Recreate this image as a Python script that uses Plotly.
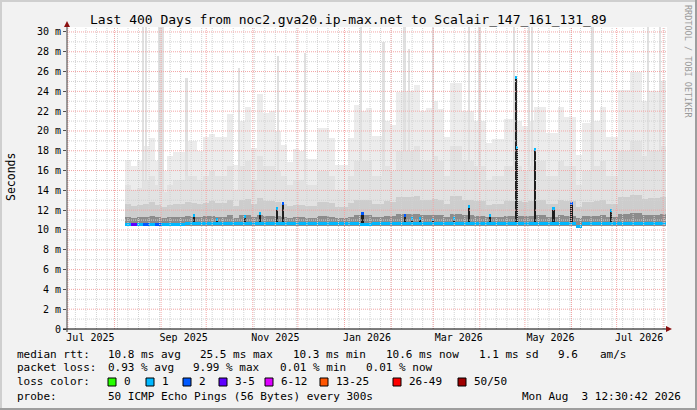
import pandas as pd
import plotly.graph_objects as go

# 400 day window shown on the time axis
range_start = "2025-06-30 10:00"
range_end = "2026-08-03 12:30"

# smoke is read in 4 day buckets, first bucket centred on Aug 10 2025
bin_dates = pd.date_range("2025-08-10", periods=90, freq="4D")

# top of the smoke (slowest ping) per bucket, ms
smoke_max = [17.1, 16.5, 17.0, 18.5, 19.3, 17.0, 16.0, 17.5, 17.9, 17.9,
             19.0, 19.0, 18.0, 19.4, 19.7, 19.4, 19.4, 21.7, 16.6, 21.0,
             22.4, 18.3, 23.7, 21.8, 22.0, 20.0, 18.6, 16.9, 18.2, 18.0,
             17.2, 17.2, 20.3, 20.3, 19.3, 16.6, 16.6, 19.3, 22.6, 22.0,
             22.3, 19.5, 19.5, 21.0, 20.6, 23.9, 24.0, 24.0, 24.6, 22.0,
             22.3, 23.0, 22.2, 19.4, 24.8, 24.8, 22.0, 22.0, 21.0, 21.0,
             18.8, 19.2, 19.2, 21.2, 21.2, 21.0, 20.5, 21.0, 22.4, 22.4,
             19.8, 19.8, 22.4, 21.4, 21.4, 17.6, 20.8, 20.8, 21.0, 22.4,
             19.4, 19.4, 24.1, 24.1, 26.0, 26.0, 23.0, 24.0, 24.0, 25.0]

# middle of the smoke
smoke_mid = [14.5, 14.0, 14.2, 15.0, 15.5, 14.5, 13.8, 14.5, 15.0, 15.0,
             15.5, 15.5, 15.0, 15.5, 16.0, 15.5, 15.5, 16.5, 14.0, 16.5,
             17.0, 15.0, 17.5, 16.5, 16.5, 16.0, 15.5, 14.5, 15.0, 15.0,
             14.5, 14.5, 16.0, 16.0, 15.5, 14.0, 14.0, 15.5, 17.0, 17.0,
             17.0, 15.5, 15.5, 16.5, 16.0, 18.0, 18.0, 18.0, 18.5, 17.0,
             17.0, 17.5, 17.0, 15.5, 18.5, 18.5, 17.0, 17.0, 16.5, 16.5,
             15.0, 15.5, 15.5, 16.5, 16.5, 16.5, 16.0, 16.5, 17.0, 17.0,
             15.5, 15.5, 17.0, 16.5, 16.5, 14.5, 16.0, 16.0, 16.5, 17.0,
             15.5, 15.5, 18.0, 18.0, 19.0, 19.0, 17.5, 18.0, 18.0, 18.5]

# denser smoke close to the median
smoke_low = [12.6, 12.4, 12.5, 12.6, 12.8, 12.5, 12.3, 12.5, 12.6, 12.6,
             12.8, 12.7, 12.6, 12.7, 12.9, 12.7, 12.7, 13.0, 12.4, 13.0,
             13.1, 12.6, 13.2, 12.9, 12.9, 12.8, 12.6, 12.4, 12.5, 12.5,
             12.4, 12.4, 12.8, 12.8, 12.7, 12.3, 12.3, 12.7, 13.0, 13.0,
             13.0, 12.6, 12.6, 12.9, 12.8, 13.3, 13.3, 13.3, 13.4, 13.0,
             13.0, 13.1, 13.0, 12.6, 13.4, 13.4, 13.0, 13.0, 12.9, 12.9,
             12.5, 12.6, 12.6, 12.9, 12.9, 12.9, 12.8, 12.9, 13.0, 13.0,
             12.6, 12.6, 13.0, 12.9, 12.9, 12.3, 12.8, 12.8, 12.9, 13.0,
             12.6, 12.6, 13.3, 13.3, 13.5, 13.5, 13.1, 13.2, 13.2, 13.3]

smoke_dark = [11.3, 11.2, 11.3, 11.3, 11.4, 11.3, 11.2, 11.3, 11.3, 11.3,
              11.4, 11.3, 11.3, 11.4, 11.4, 11.3, 11.3, 11.5, 11.2, 11.5,
              11.5, 11.3, 11.5, 11.4, 11.4, 11.4, 11.3, 11.2, 11.3, 11.3,
              11.2, 11.2, 11.4, 11.4, 11.3, 11.2, 11.2, 11.3, 11.5, 11.5,
              11.5, 11.3, 11.3, 11.4, 11.4, 11.6, 11.6, 11.6, 11.6, 11.5,
              11.5, 11.5, 11.5, 11.3, 11.6, 11.6, 11.5, 11.5, 11.4, 11.4,
              11.3, 11.3, 11.3, 11.4, 11.4, 11.4, 11.4, 11.4, 11.5, 11.5,
              11.3, 11.3, 11.5, 11.4, 11.4, 11.2, 11.4, 11.4, 11.4, 11.5,
              11.3, 11.3, 11.6, 11.6, 11.7, 11.7, 11.5, 11.5, 11.5, 11.6]

# median rtt per bucket and its loss class (index into loss_labels)
median = [10.6, 10.6, 10.6, 10.6, 10.6, 10.6, 10.6, 10.6, 10.6, 10.6,
          10.65, 10.65, 10.65, 10.65, 10.65, 10.65, 10.65, 10.65, 10.65, 10.65,
          10.65, 10.65, 10.65, 10.65, 10.65, 10.65, 10.65, 10.65, 10.65, 10.65,
          10.65, 10.65, 10.65, 10.65, 10.65, 10.65, 10.65, 10.65, 10.65, 10.55,
          10.55, 10.65, 10.65, 10.65, 10.65, 10.65, 10.65, 10.65, 10.65, 10.65,
          10.65, 10.65, 10.65, 10.65, 10.65, 10.65, 10.65, 10.65, 10.65, 10.65,
          10.65, 10.65, 10.65, 10.65, 10.65, 10.65, 10.65, 10.65, 10.65, 10.65,
          10.65, 10.65, 10.65, 10.65, 10.65, 10.4, 10.65, 10.65, 10.65, 10.65,
          10.65, 10.65, 10.65, 10.65, 10.65, 10.65, 10.65, 10.65, 10.65, 10.65]
median_loss = [1, 3, 1, 2, 1, 2, 1, 1, 1, 1,
               1, 1, 1, 1, 1, 1, 1, 1, 1, 1,
               1, 1, 1, 1, 1, 1, 1, 1, 1, 1,
               1, 1, 1, 1, 1, 1, 1, 1, 1, 1,
               1, 1, 1, 1, 1, 1, 1, 1, 1, 1,
               1, 1, 1, 1, 1, 1, 1, 1, 1, 1,
               1, 1, 1, 1, 1, 1, 1, 1, 1, 1,
               1, 1, 1, 1, 1, 1, 1, 1, 1, 1,
               1, 1, 1, 1, 1, 1, 1, 1, 1, 1]

# single slow readings that poke out of the smoke
smoke_line_dates = ["2025-08-20", "2025-08-22", "2025-08-31", "2025-09-02", "2025-09-18",
                    "2025-10-23", "2025-11-18", "2025-12-06", "2026-01-12", "2026-01-27",
                    "2026-02-10", "2026-02-13", "2026-03-01", "2026-03-25", "2026-04-01",
                    "2026-04-24", "2026-05-04", "2026-05-06", "2026-06-15", "2026-07-22",
                    "2026-07-30"]
smoke_line_tops = [30.5, 30.5, 30.5, 30.5, 25.4,
                   26.4, 27.6, 27.9, 30.5, 29.0,
                   30.5, 28.3, 30.5, 30.5, 30.5,
                   30.5, 30.5, 30.5, 30.5, 30.5,
                   30.5]

# median jumps (dark columns)
spike_dates = ["2025-09-23", "2025-10-08", "2025-10-27", "2025-11-06", "2025-11-17",
               "2025-11-21", "2026-01-13", "2026-02-10", "2026-02-15", "2026-02-20",
               "2026-03-01", "2026-03-15", "2026-03-25", "2026-04-08", "2026-04-25",
               "2026-04-26", "2026-05-08", "2026-05-20", "2026-06-01", "2026-06-27"]
spike_values = [11.5, 11.1, 11.4, 11.7, 12.2,
                12.7, 11.7, 11.5, 11.2, 11.2,
                11.1, 11.2, 12.4, 11.5, 25.4,
                18.3, 18.1, 12.2, 12.7, 12.0]
spike_loss = [1, 1, 1, 1, 1,
              2, 2, 2, 1, 1,
              1, 1, 1, 1, 1,
              1, 1, 1, 2, 1]

loss_labels = ["0", "1", "2", "3-5", "6-12", "13-25", "26-49", "50/50"]
loss_colors = ["#26ff00", "#00b8ff", "#0059ff", "#5e00ff",
               "#dd00ff", "#ff5500", "#ff0000", "#a00000"]

y_ticks = [0, 2, 4, 6, 8, 10, 12, 14, 16, 18, 20, 22, 24, 26, 28, 30]
y_ticktext = ["0"] + ["%d m" % v for v in y_ticks[1:]]
x_tickvals = ["2025-07-16", "2025-09-16", "2025-11-16", "2026-01-16",
              "2026-03-18", "2026-05-18", "2026-07-16"]
x_ticktext = ["Jul 2025", "Sep 2025", "Nov 2025", "Jan 2026",
              "Mar 2026", "May 2026", "Jul 2026"]

MONO = "DejaVu Sans Mono"
DAY = 86400000
L, R, T, B = 67, 30, 27, 81
W, H = 697, 410
PW, PH = W - L - R, H - T - B
SMOKE_BASE = 10.45


def px(x):
    return (x - L) / PW


def py(y):
    return (H - B - y) / PH


fig = go.Figure()

def smoke_layer(tops, color):
    fig.add_trace(go.Bar(x=bin_dates, y=[t - SMOKE_BASE for t in tops], base=SMOKE_BASE,
                         width=4 * DAY, marker=dict(color=color, line=dict(width=0)),
                         hoverinfo="skip", showlegend=False))

smoke_layer(smoke_max, "#ececec")
fig.add_trace(go.Bar(x=pd.to_datetime(smoke_line_dates),
                     y=[t - SMOKE_BASE for t in smoke_line_tops], base=SMOKE_BASE,
                     width=1.3 * DAY, marker=dict(color="#e0e0e0", line=dict(width=0)),
                     hoverinfo="skip", showlegend=False))
smoke_layer(smoke_mid, "#e2e2e2")
smoke_layer(smoke_low, "#cdcdcd")
smoke_layer(smoke_dark, "#8c8c8c")

# dark columns where the median jumped
fig.add_trace(go.Bar(x=pd.to_datetime(spike_dates), y=[v - 10.6 for v in spike_values], base=10.6,
                     width=1.4 * DAY, marker=dict(color="#1e1e1e", line=dict(width=0)),
                     hoverinfo="skip", showlegend=False))

# median marks coloured by loss
fig.add_trace(go.Bar(x=bin_dates, y=[0.3] * len(median), base=[m - 0.15 for m in median],
                     width=4 * DAY,
                     marker=dict(color=[loss_colors[k] for k in median_loss], line=dict(width=0)),
                     hoverinfo="skip", showlegend=False))
fig.add_trace(go.Bar(x=pd.to_datetime(spike_dates), y=[0.3] * len(spike_values),
                     base=[v - 0.15 for v in spike_values], width=1.4 * DAY,
                     marker=dict(color=[loss_colors[k] for k in spike_loss], line=dict(width=0)),
                     hoverinfo="skip", showlegend=False))

shapes = []
# grid drawn over the smoke like rrdtool does
for d in pd.date_range("2025-07-06", "2026-08-03", freq="7D"):
    shapes.append(dict(type="line", xref="x", yref="paper", x0=d, x1=d, y0=0, y1=1,
                       line=dict(color="#d2d2d2", width=1, dash="1px,1px"), layer="above"))
for v in range(1, 31, 2):
    shapes.append(dict(type="line", xref="paper", yref="y", x0=0, x1=1, y0=v, y1=v,
                       line=dict(color="#d2d2d2", width=1, dash="1px,1px"), layer="above"))
for d in pd.date_range("2025-07-01", "2026-08-01", freq="MS"):
    shapes.append(dict(type="line", xref="x", yref="paper", x0=d, x1=d, y0=0, y1=1,
                       line=dict(color="#f2a4a4", width=1, dash="1px,1px"), layer="above"))
for v in y_ticks[1:]:
    shapes.append(dict(type="line", xref="paper", yref="y", x0=0, x1=1, y0=v, y1=v,
                       line=dict(color="#f2a4a4", width=1, dash="1px,1px"), layer="above"))

# axes with arrows
shapes.append(dict(type="line", xref="paper", yref="paper", x0=px(63), x1=px(668),
                   y0=0, y1=0, line=dict(color="#000000", width=1), layer="above"))
shapes.append(dict(type="line", xref="paper", yref="paper", x0=0, x1=0,
                   y0=py(332), y1=py(24), line=dict(color="#404040", width=1), layer="above"))
shapes.append(dict(type="path", xref="paper", yref="paper", xsizemode="pixel", ysizemode="pixel",
                   xanchor=px(666), yanchor=0, path="M 0,3 L 6,0 L 0,-3 Z",
                   fillcolor="#8b1010", line=dict(width=0), layer="above"))
shapes.append(dict(type="path", xref="paper", yref="paper", xsizemode="pixel", ysizemode="pixel",
                   xanchor=0, yanchor=py(27), path="M -3,0 L 3,0 L 0,6 Z",
                   fillcolor="#8b1010", line=dict(width=0), layer="above"))

# 3d frame round the canvas
shapes.append(dict(type="rect", xref="paper", yref="paper", x0=px(0), x1=px(2), y0=py(410), y1=py(0),
                   fillcolor="#cfcfcf", line=dict(width=0)))
shapes.append(dict(type="rect", xref="paper", yref="paper", x0=px(0), x1=px(697), y0=py(2), y1=py(0),
                   fillcolor="#cfcfcf", line=dict(width=0)))
shapes.append(dict(type="rect", xref="paper", yref="paper", x0=px(695), x1=px(697), y0=py(410), y1=py(0),
                   fillcolor="#9e9e9e", line=dict(width=0)))
shapes.append(dict(type="rect", xref="paper", yref="paper", x0=px(0), x1=px(697), y0=py(410), y1=py(408),
                   fillcolor="#9e9e9e", line=dict(width=0)))

annotations = []

def text(s, x, y, anchor="left", size=11, color="#000000", angle=0):
    annotations.append(dict(text=s, x=px(x), y=py(y), xref="paper", yref="paper",
                            xanchor=anchor, yanchor="middle", showarrow=False, textangle=angle,
                            font=dict(family=MONO, size=size, color=color), borderpad=0))

text("Last 400 Days from noc2.gva20.ip-max.net to Scalair_147_161_131_89", 348.5, 19,
     anchor="center", size=13)
text("Seconds", 11, 177, anchor="center", size=11.5, angle=-90)
text("RRDTOOL / TOBI OETIKER", 688, 61, anchor="center", size=8.5, color="#9a9a9a", angle=90)

row1 = [("median rtt:", 16), ("10.8 ms avg", 107), ("25.5 ms max", 199), ("10.3 ms min", 292),
        ("10.6 ms now", 385), ("1.1 ms sd", 478), ("9.6", 557), ("am/s", 599)]
row2 = [("packet loss:", 16), ("0.93 % avg", 107), ("9.99 % max", 192), ("0.01 % min", 279),
        ("0.01 % now", 365)]
for s, x in row1:
    text(s, x, 354)
for s, x in row2:
    text(s, x, 368)
text("loss color:", 16, 382)
box_x = [108, 146, 183, 219, 265, 320, 393, 458]
for lab, col, bx in zip(loss_labels, loss_colors, box_x):
    shapes.append(dict(type="rect", xref="paper", yref="paper", x0=px(bx), x1=px(bx + 8),
                       y0=py(386), y1=py(378), fillcolor=col,
                       line=dict(color="#000000", width=1), layer="above"))
    text(lab, bx + 15, 382)
text("probe:", 16, 396)
text("50 ICMP Echo Pings (56 Bytes) every 300s", 107, 396)
text("Mon Aug\u00a0 3 12:30:42 2026", 682, 396, anchor="right")

fig.update_layout(
    width=W, height=H,
    margin=dict(l=L, r=R, t=T, b=B),
    paper_bgcolor="#f2f2f2", plot_bgcolor="#ffffff",
    barmode="overlay", bargap=0,
    showlegend=False,
    shapes=shapes, annotations=annotations,
    xaxis=dict(type="date", range=[range_start, range_end], showgrid=False, zeroline=False,
               showline=False, tickvals=x_tickvals, ticktext=x_ticktext, ticks="",
               tickfont=dict(family=MONO, size=10, color="#000000"), ticklabelstandoff=1),
    yaxis=dict(range=[0, 30.5], showgrid=False, zeroline=False, showline=False,
               tickvals=y_ticks, ticktext=y_ticktext, ticks="outside", ticklen=3,
               tickcolor="#505050", tickfont=dict(family=MONO, size=10, color="#000000")),
)

# the page body keeps an 8px margin by default, drop it so the canvas sits at 0,0
fig.write_html("out.html", config={"displayModeBar": False},
               post_script="document.body.style.margin='0';")
